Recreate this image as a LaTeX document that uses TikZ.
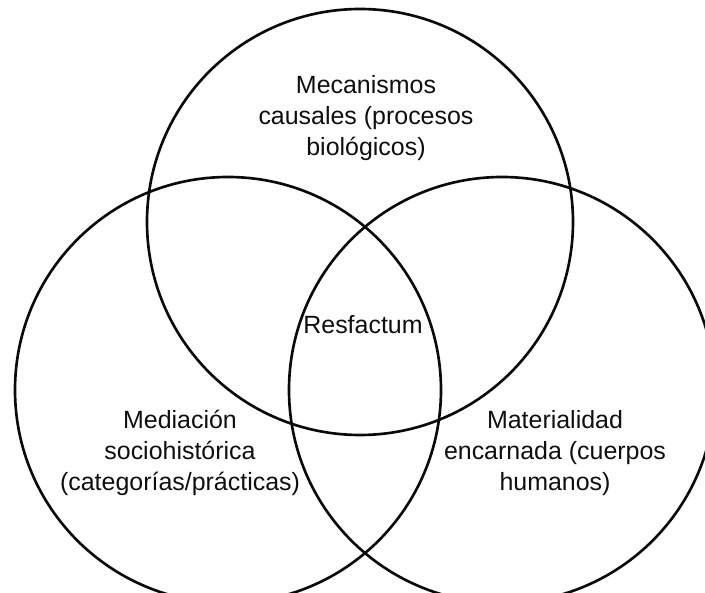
\documentclass[tikz,border=0pt]{standalone}
\usepackage{fontspec}
\setmainfont{Liberation Sans}
\usepackage{xcolor}
\usepackage{tikz}
\usetikzlibrary{shapes.geometric, positioning}
\definecolor{vennline}{RGB}{10,10,10}
\definecolor{venntext}{RGB}{15,15,15}

\begin{document}
\begin{tikzpicture}[
    venn/.style={draw=vennline, line width=1.5pt, circle, minimum size=8.52cm, inner sep=0pt},
    label/.style={align=center, text=venntext, inner sep=0pt, font=\fontsize{14.2}{17.6}\selectfont}
]
    \useasboundingbox (0,0) rectangle (14.1,11.86);

    % Circles
    \node[venn] (bio) at (7.20,7.42) {};
    \node[venn] (socio) at (4.56,4.06) {};
    \node[venn] (body) at (10.04,4.06) {};

    % Labels
    \node[label] (biotxt) at (7.32,9.50) {Mecanismos\\causales (procesos\\biológicos)};
    \node[label, anchor=base] (core) at (7.26,5.18) {Resfactum};
    \node[label] (sociotxt) at (3.60,2.80) {Mediación\\sociohistórica\\(categorías/prácticas)};
    \node[label] (bodytxt) at (11.10,2.80) {Materialidad\\encarnada (cuerpos\\humanos)};
\end{tikzpicture}
\end{document}
